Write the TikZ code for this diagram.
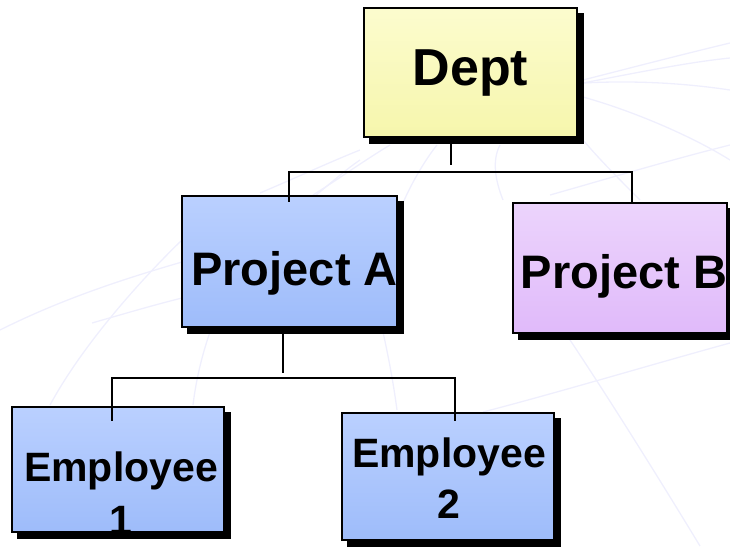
\documentclass[tikz,border=0pt]{standalone}
\usepackage{fontspec}
\setmainfont{Liberation Sans}
\usetikzlibrary{calc}

\definecolor{deptTop}{RGB}{252,252,206}
\definecolor{deptBot}{RGB}{246,246,172}
\definecolor{blueTop}{RGB}{186,208,255}
\definecolor{blueBot}{RGB}{158,188,250}
\definecolor{lilacTop}{RGB}{236,212,252}
\definecolor{lilacBot}{RGB}{224,186,250}
\definecolor{globe}{RGB}{239,239,253}

\begin{document}
\begin{tikzpicture}[x=1pt, y=-1pt]
    \tikzstyle{unit}=[draw=black, line width=2pt, inner sep=0pt,
      preaction={fill=black, draw=black, transform canvas={shift={(6pt,-6pt)}}}]
    \tikzstyle{yellowunit}=[unit, top color=deptTop, bottom color=deptBot]
    \tikzstyle{blueunit}=[unit, top color=blueTop, bottom color=blueBot]
    \tikzstyle{lilacunit}=[unit, top color=lilacTop, bottom color=lilacBot]
    \tikzstyle{title}=[inner sep=0pt, font=\bfseries]
    \tikzstyle{wire}=[line width=1.6pt, line cap=rect]
    \useasboundingbox (0,0) rectangle (730,546);

    % draw faint globe behind the chart
    \foreach \a/\b/\c/\d/\e/\f/\g/\h in {50/405/95/322/182/240/182/240, 260/193/300/176/330/162/360/150,
      310/200/330/184/345/170/360/160, 313/195/340/178/365/160/390/145,
      400/210/410/185/425/160/437/145, 503/200/495/180/492/160/500/145,
      583/80/630/68/680/55/730/43, 583/83/640/72/690/62/730/58,
      583/83/640/80/690/84/730/90, 583/97/630/110/690/135/730/160,
      583/140/600/160/620/180/640/200, 550/195/610/178/670/160/730/145,
      570/340/610/400/660/480/700/546, 483/412/560/392/650/365/730/343,
      210/332/202/355/196/380/193/405, 383/332/388/355/393/380/397/410,
      92/323/120/315/150/306/182/298, 0/330/60/300/120/280/182/262}
    \draw [globe, line width=1.3pt] (\a,\b) .. controls (\c,\d) and (\e,\f) .. (\g,\h);

    % draw units
    \node [yellowunit, minimum width=213, minimum height=129] (dept) at (470.5,72.5) {};
    \node [blueunit, minimum width=215, minimum height=131] (projA) at (289.5,261.5) {};
    \node [lilacunit, minimum width=214, minimum height=130] (projB) at (620,268) {};
    \node [blueunit, minimum width=212, minimum height=125] (emp1) at (118,469.5) {};
    \node [blueunit, minimum width=212, minimum height=127] (emp2) at (448,476.5) {};

    % draw text
    \node [title, anchor=base, font=\fontsize{52}{60}\selectfont\bfseries] (deptText) at (470.5,85) {Dept};
    \node [title, anchor=base, font=\fontsize{47}{54}\selectfont\bfseries] (projAText) at (294.5,285) {Project A};
    \node [title, anchor=base, font=\fontsize{47}{54}\selectfont\bfseries] (projBText) at (624,288) {Project B};
    \node [title, anchor=north, align=center, font=\fontsize{41}{53}\selectfont\bfseries] (emp1Text) at (121,452) {Employee\\1};
    \node [title, anchor=north, align=center, font=\fontsize{41}{51}\selectfont\bfseries] (emp2Text) at (449,438) {Employee\\2};

    % draw lines
    \coordinate (deptStem) at (451,164);
    \coordinate (busA) at (289,172);
    \coordinate (busB) at (632,172);
    \coordinate (projStem) at (283,372);
    \coordinate (busE1) at (112,378);
    \coordinate (busE2) at (455,378);

    \draw [wire] (deptStem |- dept.south) -- (deptStem);
    \draw [wire] (busA |- projA.north) ++(0,6) -- (busA) -- (busB) -- (busB |- projB.north);
    \draw [wire] (projStem |- projA.south) -- (projStem);
    \draw [wire] (busE1 |- emp1.north) ++(0,14) -- (busE1) -- (busE2) -- (busE2 |- emp2.north) -- ++(0,8);

\end{tikzpicture}
\end{document}
